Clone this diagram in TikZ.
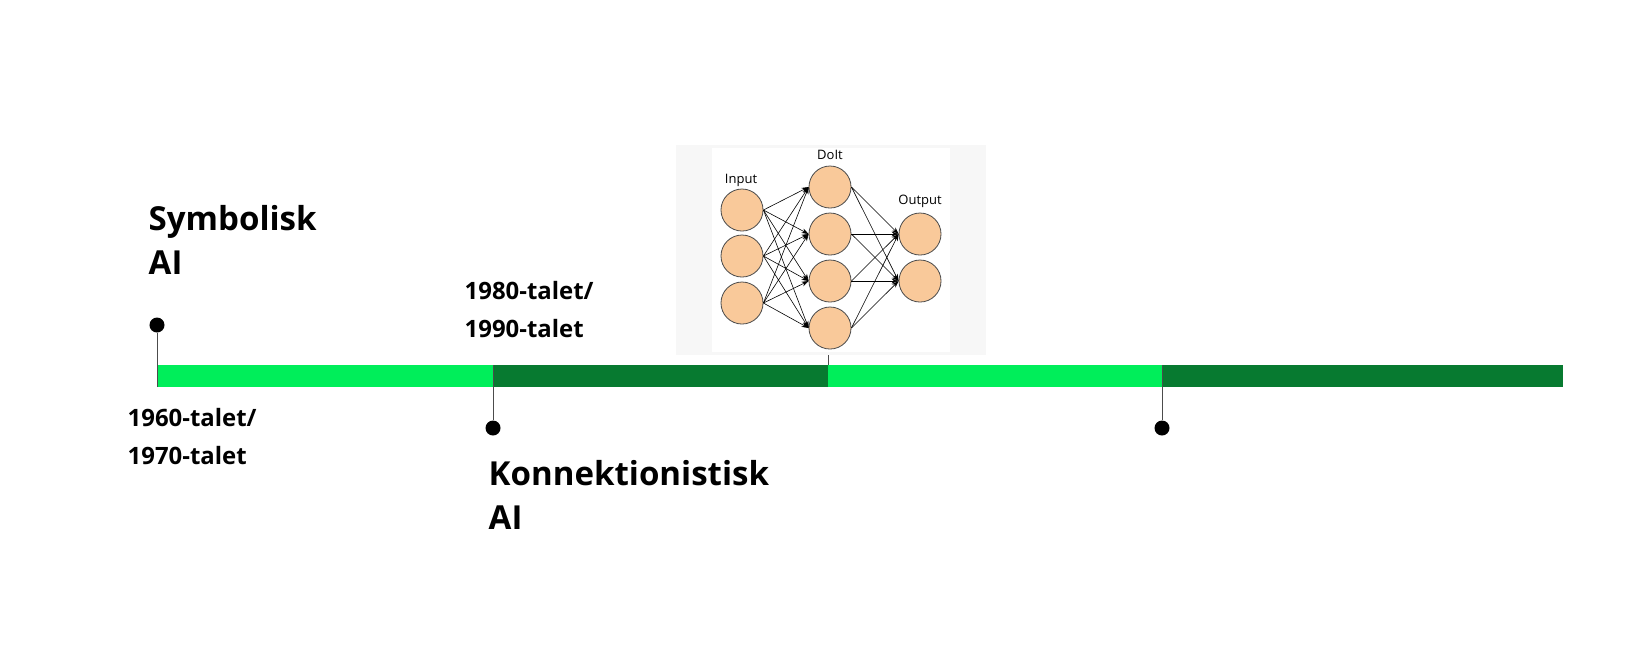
\documentclass[tikz,border=0pt]{standalone}
\usepackage{fontspec}
\setmainfont{Open Sans}
\usetikzlibrary{arrows.meta}
\definecolor{lg}{HTML}{00EE5A}
\definecolor{dg}{HTML}{077A30}
\definecolor{neu}{HTML}{F9C99A}
\begin{document}
\begin{tikzpicture}[x=0.01cm,y=-0.01cm,
  big/.style={font=\fontsize{9.4}{12.5}\selectfont\bfseries,align=left,anchor=north west,inner sep=0},
  yr/.style={font=\fontsize{6.8}{10.8}\selectfont\bfseries,align=left,anchor=north west,inner sep=0},
  dot/.style={circle,fill=black,inner sep=0,minimum size=0.15cm},
  neuron/.style={circle,draw=black!70,fill=neu,line width=0.23pt,minimum size=0.42cm,inner sep=0},
  conn/.style={line width=0.17pt,-{Stealth[length=2pt,width=1.4pt]}},
  lbl/.style={font=\fontsize{3.7}{4.3}\selectfont,inner sep=0}]
\useasboundingbox[fill=white] (0,0) rectangle (1643,656);
% network panel
\fill[black!3] (676,145) rectangle (986,355);
\fill[white] (712,148) rectangle (950,352);
\foreach \i/\y in {1/210,2/256,3/303} \node[neuron] (i\i) at (742,\y) {};
\foreach \i/\y in {1/187,2/234,3/281,4/328} \node[neuron] (h\i) at (830,\y) {};
\foreach \i/\y in {1/234,2/281} \node[neuron] (o\i) at (920,\y) {};
\foreach \a in {1,2,3} \foreach \b in {1,2,3,4} \draw[conn] (i\a.east) -- (h\b.west);
\foreach \a in {1,2,3,4} \foreach \b in {1,2} \draw[conn] (h\a.east) -- (o\b.west);
\node[lbl] at (741,180) {Input};
\node[lbl] at (830,155) {DoIt};
\node[lbl] at (920,201) {Output};
% timeline
\fill[lg] (157,365) rectangle (493,387);
\fill[dg] (493,365) rectangle (828,387);
\fill[lg] (828,365) rectangle (1162,387);
\fill[dg] (1162,365) rectangle (1563,387);
\node[dot] (d1) at (157,325) {};
\node[dot] (d2) at (493,428) {};
\node[dot] (d3) at (1162,428) {};
\coordinate (b1) at (157,387);
\coordinate (b2) at (493,365);
\coordinate (b3) at (1162,365);
\coordinate (t4) at (828,355);
\coordinate (b4) at (828,365);
\draw[black!70,line width=0.23pt] (d1) -- (b1) (d2) -- (b2) (d3) -- (b3) (t4) -- (b4);
\node[big] (s) at (148,205) {Symbolisk\\AI};
\node[big] (k) at (488,460) {Konnektionistisk\\AI};
\node[yr] (y1) at (127,408) {1960-talet/\\1970-talet};
\node[yr] (y2) at (464,281) {1980-talet/\\1990-talet};
\end{tikzpicture}
\end{document}
